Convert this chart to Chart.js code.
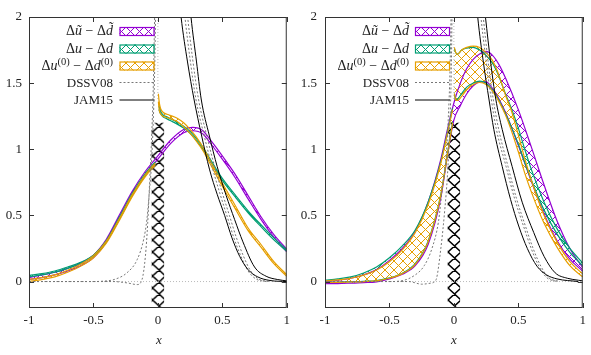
<!DOCTYPE html>
<html><head><meta charset="utf-8">
<script src="https://cdn.jsdelivr.net/npm/chart.js@4.4.1/dist/chart.umd.min.js"></script>
<style>
html,body{margin:0;padding:0;background:#fff;}
#wrap{position:relative;width:591px;height:355px;overflow:hidden;font-family:"Liberation Serif","DejaVu Serif",serif;color:#222;}
canvas{position:absolute;top:0;}
.lg{position:absolute;font-size:13px;text-align:right;white-space:nowrap;line-height:13px;height:13px;}
.lg.m{font-size:14px;}
.lg sup{font-size:10.5px;vertical-align:0;position:relative;top:-5px;line-height:0;}
.xt{position:absolute;font-style:italic;font-size:13px;width:20px;text-align:center;line-height:13px;}
</style></head><body>
<div id="wrap">
<canvas id="cL" width="295" height="355" style="left:0"></canvas>
<canvas id="cR" width="296" height="355" style="left:295px"></canvas>
<div id="legL"></div><div id="legR"></div>
<div class="xt" style="left:149px;top:333px">x</div>
<div class="xt" style="left:444px;top:333px">x</div>
</div>
<script>
// ---------- tick values ----------
const xTickVals = [-1, -0.5, 0, 0.5, 1];
const yTickVals = [0, 0.5, 1, 1.5, 2];

// ---------- legend labels ----------
const legendLabels = [
  'Δ<i>ũ</i> − Δ<i>d̃</i>',
  'Δ<i>u</i> − Δ<i>d</i>',
  'Δ<i>u</i><sup>(0)</sup> − Δ<i>d</i><sup>(0)</sup>',
  'DSSV08',
  'JAM15'
];

// ---------- shared guide lines ----------
const zeroX = [-1, 1];
const zeroY = [0, 0];
const vlineX = [0, 0];
const vlineY = [1.38, 2];
const stripX = [-0.05, 0.05];
const stripY = [1.2, 1.2];

// ================= LEFT PANEL =================
const purpleX_L = [-1,-0.9,-0.8,-0.7,-0.6,-0.5,-0.4,-0.3,-0.2,-0.1,0,0.1,0.2,0.27,0.35,0.4,0.5,0.6,0.7,0.8,0.9,1];
const purpleLo_L = [0.015,0.03,0.05,0.08,0.12,0.18,0.3,0.48,0.655,0.805,0.925,1.045,1.125,1.14,1.115,1.055,0.925,0.785,0.625,0.47,0.335,0.225];
const purpleHi_L = [0.03,0.05,0.07,0.1,0.14,0.2,0.32,0.5,0.68,0.83,0.95,1.07,1.15,1.165,1.14,1.08,0.95,0.81,0.65,0.49,0.355,0.245];

const negX_L = [-1,-0.9,-0.8,-0.7,-0.6,-0.5,-0.4,-0.3,-0.2,-0.1,-0.02];
const greenNegLo_L = [0.035,0.05,0.07,0.1,0.135,0.19,0.3,0.47,0.65,0.8,0.89];
const greenNegHi_L = [0.045,0.06,0.08,0.11,0.145,0.2,0.31,0.485,0.665,0.815,0.905];
const orangeNegLo_L = [0.0,0.015,0.035,0.07,0.115,0.18,0.29,0.46,0.64,0.79,0.88];
const orangeNegHi_L = [0.015,0.03,0.05,0.085,0.13,0.195,0.305,0.475,0.655,0.805,0.895];

const greenPosX_L = [0.008,0.02,0.04,0.07,0.1,0.15,0.2,0.25,0.3,0.35,0.4,0.45,0.5,0.6,0.7,0.8,0.9,1];
const greenPosLo_L = [1.3,1.27,1.245,1.23,1.215,1.19,1.16,1.12,1.065,1.0,0.92,0.84,0.765,0.64,0.52,0.415,0.315,0.228];
const greenPosHi_L = [1.33,1.29,1.26,1.245,1.23,1.205,1.175,1.135,1.08,1.015,0.935,0.855,0.78,0.655,0.535,0.43,0.33,0.24];

const orangePosX_L = [0.004,0.01,0.02,0.04,0.07,0.1,0.15,0.2,0.25,0.3,0.35,0.4,0.45,0.5,0.6,0.7,0.8,0.9,1];
const orangePosLo_L = [1.36,1.3,1.27,1.25,1.24,1.23,1.21,1.17,1.12,1.06,0.99,0.9,0.81,0.72,0.55,0.385,0.26,0.135,0.04];
const orangePosHi_L = [1.42,1.36,1.31,1.28,1.265,1.255,1.235,1.2,1.15,1.09,1.015,0.925,0.835,0.745,0.575,0.405,0.28,0.15,0.052];

const dssvOutX_L = [-1,-0.5,-0.4,-0.34,-0.24,-0.16,-0.11,-0.085,-0.064,-0.054,-0.04,-0.025,-0.012];
const dssvOutY_L = [0,0,0.005,0.015,0.066,0.167,0.32,0.47,0.7,0.82,1.1,1.6,2.4];
const dssvInX_L = [-1,-0.35,-0.24,-0.16,-0.123,-0.097,-0.079,-0.064,-0.05,-0.035,-0.02];
const dssvInY_L = [0,0,-0.01,-0.023,0.015,0.19,0.44,0.75,1.05,1.5,2.3];
const dssvP1X_L = [0.17,0.21,0.25,0.295,0.36,0.42,0.48,0.535,0.59,0.645,0.7,0.76,0.84];
const dssvP2X_L = [0.19,0.231,0.27,0.315,0.38,0.44,0.5,0.555,0.61,0.665,0.72,0.78,0.86];
const dssvPY_L = [2.4,2.0,1.68,1.38,1.1,0.87,0.67,0.5,0.33,0.19,0.08,0.02,0];

const jamAX_L = [0.14,0.18,0.23,0.28,0.34,0.4,0.46,0.518,0.575,0.635,0.7,0.775,0.87,1];
const jamAY_L = [2.4,2.0,1.66,1.38,1.1,0.85,0.66,0.5,0.33,0.19,0.09,0.035,0.008,0];
const jamBX_L = [0.22,0.257,0.3,0.336,0.4,0.46,0.53,0.595,0.66,0.75,0.84,0.93,1];
const jamBY_L = [2.4,2.0,1.66,1.38,1.1,0.87,0.65,0.47,0.3,0.11,0.04,0.015,0.005];

// ================= RIGHT PANEL =================
const purpleX_R = [-1,-0.9,-0.8,-0.7,-0.6,-0.5,-0.4,-0.3,-0.2,-0.1,-0.05,0,0.05,0.1,0.15,0.2,0.25,0.3,0.35,0.4,0.5,0.6,0.7,0.8,0.9,1];
const purpleHi_R = [0.0,0.01,0.025,0.05,0.09,0.16,0.25,0.38,0.6,0.93,1.15,1.35,1.5,1.61,1.68,1.72,1.74,1.71,1.64,1.54,1.3,1.02,0.73,0.46,0.25,0.105];
const purpleLo_R = [-0.015,-0.015,-0.012,-0.008,-0.002,0.02,0.055,0.12,0.28,0.64,0.95,1.22,1.33,1.42,1.48,1.51,1.51,1.46,1.38,1.28,1.03,0.76,0.51,0.31,0.17,0.078];

const negX_R = [-1,-0.9,-0.8,-0.7,-0.6,-0.5,-0.4,-0.3,-0.2,-0.1,-0.05,-0.01];
const orangeNegHi_R = [0.005,0.012,0.025,0.048,0.087,0.15,0.24,0.37,0.58,0.9,1.12,1.3];
const orangeNegLo_R = [-0.008,-0.006,-0.003,0.0,0.005,0.025,0.06,0.13,0.3,0.66,0.96,1.2];
const greenNegHi_R = [0.01,0.02,0.035,0.065,0.11,0.18,0.27,0.39,0.6,0.91,1.13,1.31];
const greenNegLo_R = [-0.006,-0.004,-0.001,0.002,0.008,0.028,0.063,0.135,0.305,0.665,0.965,1.205];

const posX_R = [0.004,0.015,0.03,0.06,0.1,0.15,0.2,0.25,0.3,0.35,0.4,0.45,0.5,0.55,0.6,0.7,0.8,0.9,1];
const orangePosHi_R = [1.77,1.73,1.72,1.75,1.77,1.78,1.77,1.73,1.67,1.56,1.41,1.28,1.11,0.93,0.77,0.5,0.3,0.15,0.058];
const orangePosLo_R = [1.42,1.37,1.37,1.40,1.45,1.49,1.505,1.49,1.44,1.36,1.26,1.13,0.98,0.82,0.68,0.44,0.26,0.12,0.035];
const greenPosHi_R = [1.76,1.73,1.72,1.75,1.765,1.77,1.75,1.71,1.65,1.55,1.42,1.3,1.16,1.0,0.85,0.6,0.4,0.25,0.14];
const greenPosLo_R = [1.42,1.37,1.38,1.42,1.47,1.5,1.515,1.5,1.45,1.37,1.27,1.16,1.04,0.9,0.77,0.54,0.36,0.22,0.12];

const dssvOutX_R = [-1,-0.5,-0.41,-0.3,-0.23,-0.17,-0.12,-0.088,-0.062,-0.045,-0.03,-0.015];
const dssvOutY_R = [0,0,0.005,0.05,0.12,0.25,0.45,0.72,0.92,1.2,1.6,2.4];
const dssvInX_R = [-1,-0.35,-0.25,-0.18,-0.14,-0.1,-0.07,-0.05,-0.035,-0.02,-0.01];
const dssvInY_R = [0,0,-0.02,-0.012,0.01,0.26,0.55,0.8,1.1,1.6,2.4];
const dssvP1X_R = [0.175,0.21,0.25,0.29,0.33,0.405,0.47,0.54,0.6,0.66,0.72,0.8];
const dssvP2X_R = [0.19,0.228,0.265,0.305,0.348,0.42,0.485,0.555,0.615,0.675,0.735,0.82];
const dssvPY_R = [2.4,2.0,1.67,1.38,1.15,0.87,0.63,0.42,0.25,0.116,0.03,0];

const jamAX_R = [0.15,0.185,0.23,0.272,0.31,0.375,0.44,0.503,0.57,0.645,0.72,0.8,0.966];
const jamAY_R = [2.4,2.0,1.65,1.38,1.15,0.87,0.62,0.42,0.25,0.116,0.05,0.02,0];
const jamBX_R = [0.2,0.245,0.285,0.325,0.375,0.452,0.53,0.62,0.7,0.786,0.88,0.966,1];
const jamBY_R = [2.4,2.0,1.66,1.38,1.15,0.87,0.6,0.37,0.19,0.066,0.025,0.01,0.005];

// ---------- styles ----------
const PURPLE = '#9400d3', GREEN = '#009e73', ORANGE = '#e69f00';
const FONT = {family:'"Liberation Serif","DejaVu Serif",serif', size:13};

function hatch(color, w, h, lw, bg, tx, ty){
  const c = document.createElement('canvas'); c.width = w; c.height = h;
  const g = c.getContext('2d');
  if (bg){ g.fillStyle = bg; g.fillRect(0,0,w,h); }
  g.strokeStyle = color; g.lineWidth = lw;
  g.beginPath();
  for (let k=-1;k<=1;k++){
    g.moveTo(k*w, 0); g.lineTo(k*w + w, h);
    g.moveTo(k*w + w, 0); g.lineTo(k*w, h);
  }
  g.stroke();
  const p = g.createPattern(c, 'repeat');
  if (tx || ty) p.setTransform(new DOMMatrix([1,0,0,1,tx||0,ty||0]));
  return p;
}

function P(xs, ys){ return xs.map((x,i)=>({x:x, y:ys[i]})); }
function L(xs, ys, color, extra){
  return Object.assign({data:P(xs,ys), borderColor:color, borderWidth:1.2, pointRadius:0, pointHoverRadius:0,
    fill:false, cubicInterpolationMode:'monotone', backgroundColor:'rgba(0,0,0,0)'}, extra||{});
}
function band(list, xs, lo, hi, color, pat){
  list.push(L(xs, lo, color));
  list.push(L(xs, hi, color, {fill:'-1', backgroundColor:pat}));
}

function buildPanel(d, stripLeftPx){
  const pats = [hatch(PURPLE,9,9,1), hatch(GREEN,9,9,1), hatch(ORANGE,9,9,1)];
  const blk = hatch('#000',13,12,1.5,'#fff',stripLeftPx,0);
  const ds = [];
  ds.push(L(zeroX, zeroY, '#aaa', {borderWidth:0.8, borderDash:[1,2], cubicInterpolationMode:'default', tension:0}));
  ds.push(L(vlineX, vlineY, '#aaa', {borderWidth:0.8, borderDash:[1,2], cubicInterpolationMode:'default', tension:0}));
  d.purple.forEach(b=>band(ds, b[0], b[1], b[2], PURPLE, pats[0]));
  d.green.forEach(b=>band(ds, b[0], b[1], b[2], GREEN, pats[1]));
  d.orange.forEach(b=>band(ds, b[0], b[1], b[2], ORANGE, pats[2]));
  ds.push(L(stripX, stripY, '#000', {borderWidth:0, fill:'start', backgroundColor:blk, cubicInterpolationMode:'default', tension:0}));
  d.dssv.forEach(c=>ds.push(L(c[0], c[1], '#777', {borderWidth:1, borderDash:[2,2]})));
  d.jam.forEach(c=>ds.push(L(c[0], c[1], '#000', {borderWidth:1})));
  ds.forEach((x,i)=>{ x.order = -i; });
  return {ds, pats};
}

const framePlugin = {
  id:'frame',
  afterDraw(chart, args, opts){
    const {ctx, chartArea:a, scales:{x, y}} = chart;
    ctx.save();
    ctx.strokeStyle = '#333'; ctx.lineWidth = 1; ctx.setLineDash([]);
    ctx.strokeRect(a.left+0.5, a.top+0.5, a.right-a.left-1, a.bottom-a.top-1);
    ctx.beginPath();
    xTickVals.forEach(v=>{ const px = Math.round(x.getPixelForValue(v))+0.5;
      ctx.moveTo(px, a.bottom); ctx.lineTo(px, a.bottom-5); ctx.moveTo(px, a.top); ctx.lineTo(px, a.top+5); });
    yTickVals.forEach(v=>{ const py = Math.round(y.getPixelForValue(v))+0.5;
      ctx.moveTo(a.left, py); ctx.lineTo(a.left+5, py); ctx.moveTo(a.right, py); ctx.lineTo(a.right-5, py); });
    ctx.stroke();
    // legend samples
    const x0 = opts.lx, rows = [31, 48.5, 65.5, 82.5, 100], cols = [PURPLE, GREEN, ORANGE];
    for (let i=0;i<3;i++){
      ctx.fillStyle = opts.pats[i];
      ctx.fillRect(x0, rows[i]-4, 35, 9);
      ctx.strokeStyle = cols[i]; ctx.lineWidth = 1.2;
      ctx.strokeRect(x0+0.5, rows[i]-4+0.5, 34, 8);
    }
    ctx.strokeStyle = '#777'; ctx.lineWidth = 1; ctx.setLineDash([2,2]);
    ctx.beginPath(); ctx.moveTo(x0, rows[3]); ctx.lineTo(x0+35, rows[3]); ctx.stroke();
    ctx.setLineDash([]); ctx.strokeStyle = '#555'; ctx.lineWidth = 1.6;
    ctx.beginPath(); ctx.moveTo(x0, rows[4]); ctx.lineTo(x0+35, rows[4]); ctx.stroke();
    ctx.restore();
  }
};

function makeChart(id, built, yW, yPad, rightPad, lx){
  return new Chart(document.getElementById(id), {
    type:'line',
    data:{datasets:built.ds},
    options:{
      responsive:false, animation:false, devicePixelRatio:1,
      layout:{padding:{left:0, right:rightPad, top:17, bottom:0}},
      plugins:{legend:{display:false}, tooltip:{enabled:false},
        filler:{drawTime:'beforeDatasetsDraw', propagate:false},
        frame:{lx:lx, pats:built.pats}},
      scales:{
        x:{type:'linear', min:-1, max:1,
          grid:{display:false, drawTicks:false}, border:{display:false},
          ticks:{padding:5, font:FONT, color:'#222', maxRotation:0, autoSkip:false, callback:v=>String(v)},
          afterBuildTicks:s=>{ s.ticks = xTickVals.map(v=>({value:v})); },
          afterFit:s=>{ s.height = 47; }},
        y:{type:'linear', min:-0.2, max:2,
          grid:{display:false, drawTicks:false}, border:{display:false},
          ticks:{padding:yPad, font:FONT, color:'#222', autoSkip:false, callback:v=>String(v)},
          afterBuildTicks:s=>{ s.ticks = yTickVals.map(v=>({value:v})); },
          afterFit:s=>{ s.width = yW; }}
      }
    },
    plugins:[framePlugin]
  });
}

const left = buildPanel({
  purple:[[purpleX_L, purpleLo_L, purpleHi_L]],
  green:[[negX_L, greenNegLo_L, greenNegHi_L],[greenPosX_L, greenPosLo_L, greenPosHi_L]],
  orange:[[negX_L, orangeNegLo_L, orangeNegHi_L],[orangePosX_L, orangePosLo_L, orangePosHi_L]],
  dssv:[[dssvOutX_L, dssvOutY_L],[dssvInX_L, dssvInY_L],[dssvP1X_L, dssvPY_L],[dssvP2X_L, dssvPY_L]],
  jam:[[jamAX_L, jamAY_L],[jamBX_L, jamBY_L]]
}, 152.5);
const right = buildPanel({
  purple:[[purpleX_R, purpleLo_R, purpleHi_R]],
  green:[[negX_R, greenNegLo_R, greenNegHi_R],[posX_R, greenPosLo_R, greenPosHi_R]],
  orange:[[negX_R, orangeNegLo_R, orangeNegHi_R],[posX_R, orangePosLo_R, orangePosHi_R]],
  dssv:[[dssvOutX_R, dssvOutY_R],[dssvInX_R, dssvInY_R],[dssvP1X_R, dssvPY_R],[dssvP2X_R, dssvPY_R]],
  jam:[[jamAX_R, jamAY_R],[jamBX_R, jamBY_R]]
}, 153);

makeChart('cL', left, 29, 7, 6, 119.5);
makeChart('cR', right, 30, 8, 7, 120);

// legend text (HTML)
function legend(id, left, width){
  const el = document.getElementById(id);
  const rows = [31, 48.5, 65.5, 82.5, 100];
  legendLabels.forEach((t,i)=>{
    const d = document.createElement('div');
    d.className = 'lg' + (i < 3 ? ' m' : '');
    d.style.left = left+'px'; d.style.width = width+'px'; d.style.top = (rows[i]-7)+'px';
    d.innerHTML = t;
    el.appendChild(d);
  });
}
legend('legL', 0, 113);
legend('legR', 295, 114);
</script>
</body></html>
